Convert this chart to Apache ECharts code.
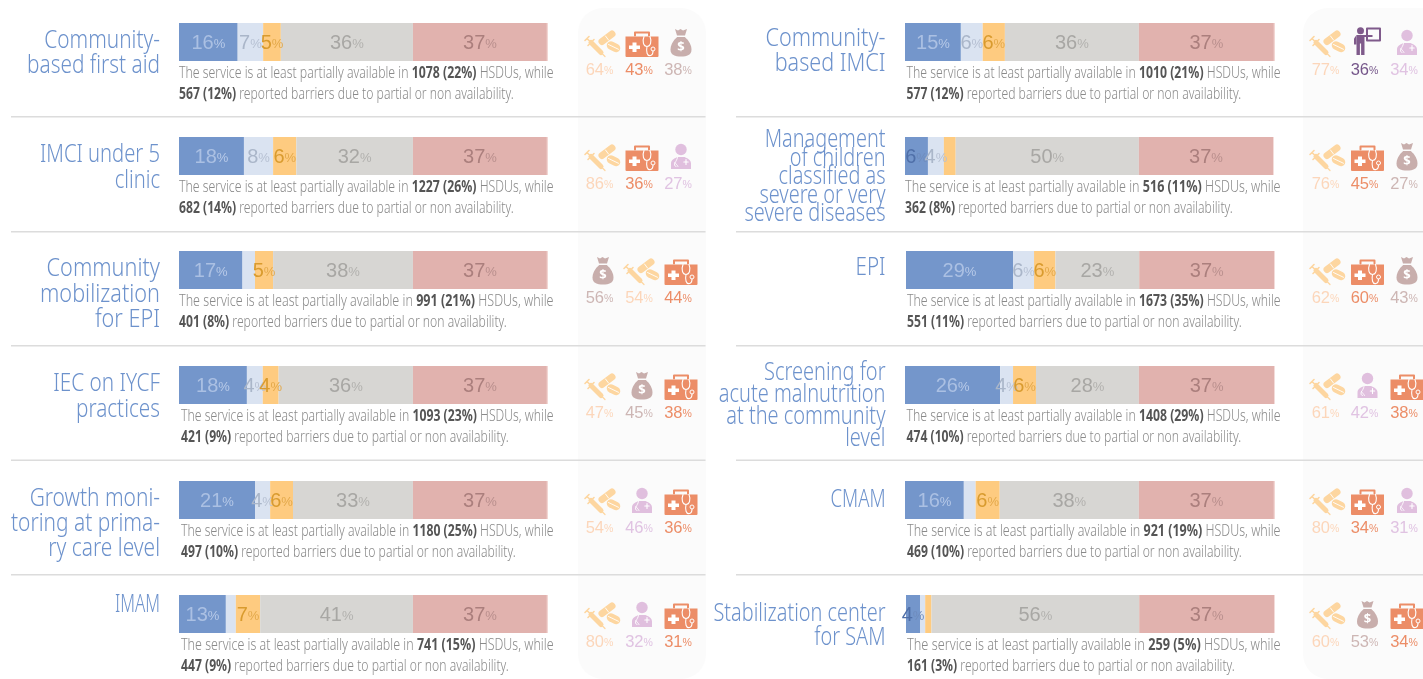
<!DOCTYPE html>
<html><head><meta charset="utf-8">
<style>html,body{margin:0;padding:0;background:#fff}#c{width:1423px;height:679px}</style>
<script src="https://cdn.jsdelivr.net/npm/echarts@6/dist/echarts.min.js"></script>
</head><body><div id="c"></div>
<script>
// ---------- data ----------
const serviceNames = [
 "Community-\nbased first aid","IMCI under 5\nclinic","Community\nmobilization\nfor EPI","IEC on IYCF\npractices","Growth moni-\ntoring at prima-\nry care level","IMAM",
 "Community-\nbased IMCI","Management\nof children\nclassified as\nsevere or very\nsevere diseases","EPI","Screening for\nacute malnutrition\nat the community\nlevel","CMAM","Stabilization center\nfor SAM"];
const barAvailable   = [15.9,17.6,17.2,18.4,20.6,12.7, 15.1,6.2,29.0,25.7,15.9,3.8];
const barPartial     = [6.9,7.9,3.4,4.3,4.1,2.7, 5.9,4.3,5.7,3.5,3.2,1.4];
const barBarrier     = [4.8,6.3,4.9,4.3,6.2,6.6, 6.0,3.2,5.8,6.2,6.5,1.7];
const barNotRelevant = [35.8,31.6,37.9,36.4,32.5,41.4, 36.2,49.5,22.7,27.8,37.6,56.3];
const barNoData      = [36.3,36.3,36.3,36.3,36.3,36.3, 36.5,36.3,36.6,36.6,36.5,36.6];
const barRemainder   = [0.3,0.3,0.3,0.3,0.3,0.3, 0.3,0.2,0.2,0.2,0.3,0.2];
const labelAvailable   = [16,18,17,18,21,13, 15,6,29,26,16,4];
const labelPartial     = [7,8,null,4,4,null, 6,4,6,4,null,null];
const labelBarrier     = [5,6,5,4,6,7, 6,null,6,6,6,null];
const labelNotRelevant = [36,32,38,36,33,41, 36,50,23,28,38,56];
const labelNoData      = [37,37,37,37,37,37, 37,37,37,37,37,37];
const availableCount = [1078,1227,991,1093,1180,741, 1010,516,1673,1408,921,259];
const availablePct   = [22,26,21,23,25,15, 21,11,35,29,19,5];
const barrierCount   = [567,682,401,421,497,447, 577,362,551,474,469,161];
const barrierPct     = [12,14,8,9,10,9, 12,8,11,10,10,3];
const iconKind1 = ["pills","pills","bag","pills","pills","pills", "pills","pills","pills","pills","pills","pills"];
const iconKind2 = ["kit","kit","pills","bag","doctor","doctor", "teacher","kit","kit","doctor","kit","bag"];
const iconKind3 = ["bag","doctor","kit","kit","kit","kit", "doctor","bag","bag","kit","doctor","kit"];
const iconPct1 = [64,86,56,47,54,80, 77,76,62,61,80,60];
const iconPct2 = [43,36,54,45,46,32, 36,45,60,42,34,53];
const iconPct3 = [38,27,44,38,36,31, 34,27,43,38,31,34];

// ---------- layout ----------
const rowTop = [23,137,251,366,481,595];
const barLeft = [179,179,179,179,179,179, 905,905,906,905,905,906];
const barW    = [369,369,369,369,369,369, 370,370,369,370,370,369];
const textLeft = [179,179,179,181,181,181, 906.5,905,907,906.5,907,907];
const titleFirstY = [41,155,269,384,499,605, 39,140,268,373,500,614];
const titleLH     = [25,26,25.5,26,25,25, 25,18.5,25,22,25,24];
const titleWidest = [133,120,120,106.7,149,45, 120,141,30,166.7,55,172];
const sepY = [117,232,346,460.5,575];
const iconX = [[603,642,681],[1328,1367.5,1407]];
const valX  = [[599.5,639,678],[1325.5,1364.5,1404]];
const BAR_H = 38;
const SANS = "'Noto Sans'";

const kinds = {
 pills:{c:'#fdd6a0',t:'#fcd6ba'},
 kit:{c:'#ec8d67',t:'#ec8d67'},
 bag:{c:'#c8aeac',t:'#cdb6b4'},
 doctor:{c:'#e0bfde',t:'#e0c3e2'},
 teacher:{c:'#7f5a8b',t:'#75568a'}
};

let pathCount=0; const pathTypes={};
function pathType(d){
 if(!pathTypes[d]){const n='iconPath'+(pathCount++);echarts.graphic.registerShape(n,echarts.graphic.extendPath(d,{}));pathTypes[d]=n;}
 return pathTypes[d];
}
function P(d,c){return {type:pathType(d),silent:true,style:{fill:c,stroke:null}};}
function S(d,c,w){return {type:pathType(d),silent:true,style:{fill:null,stroke:c,lineWidth:w,lineCap:'round',lineJoin:'round'}};}
function iconShapes(kind){
 const c=kinds[kind].c;
 if(kind==='kit') return [
  S('M-7 -9 L-7 -12 L7 -12 L7 -9',c,2),
  P('M-16.5 -8 L16.5 -8 L16.5 11.5 Q16.5 12.5 15.5 12.5 L-15.5 12.5 Q-16.5 12.5 -16.5 11.5 Z',c),
  P('M-9.5 -2 L-5.5 -2 L-5.5 1 L-2 1 L-2 4.5 L-5.5 4.5 L-5.5 7.5 L-9.5 7.5 L-9.5 4.5 L-13 4.5 L-13 1 L-9.5 1 Z','#fff'),
  S('M2 -8 C0 -3 1.5 2 5 2 C8.5 2 10 -3 8 -8 M5 2 C4 7 5 12 8.5 11 C11 10.5 11 8 11 6.5',"#fff",1.1),
  {type:'circle',silent:true,shape:{cx:11,cy:4.5,r:2},style:{fill:null,stroke:'#fff',lineWidth:1}}
 ];
 if(kind==='bag') return [
  P('M-6 -14 L-3 -12.5 L-0.5 -14 L2 -12.5 L6 -14 L4 -7.5 L-4 -7.5 Z',c),
  P('M-3.8 -6 C-8 -2.5 -10.5 2.5 -10.5 6.5 C-10.5 12 -6 13.5 0 13.5 C6 13.5 10.5 12 10.5 6.5 C10.5 2.5 8 -2.5 3.8 -6 Z',c),
  {type:'text',silent:true,x:0,y:4,style:{text:'$',fill:'#fff',font:"bold 13px 'Noto Sans'",align:'center',verticalAlign:'middle'}}
 ];
 if(kind==='pills') return [
  S('M-12 -2 L-2 8',c,5),
  S('M-15 1 L-9 -5 M-12 -2 L-16 -6 M-18 -4 L-14 -8',c,1.6),
  S('M-2 8 L2 12',c,1.2),
  S('M-1 -3 L9 -10.5',c,7),
  S('M8 1 L13 3.5',c,8.5),
  S('M2.5 -8.5 L5.5 -4.5',"#fff",0.9),
  S('M5.5 0 L15.5 4.8',"#fff",0.9)
 ];
 if(kind==='doctor') return [
  {type:'circle',silent:true,shape:{cx:0,cy:-7,r:5.7},style:{fill:c}},
  P('M-10 12.5 L-10 7 C-10 3 -6 1.5 -3.5 0.5 L3.5 0.5 C6 1.5 10 3 10 7 L10 12.5 Z',c),
  S('M-3.5 1 C-4 3 -5 5 -6 6 C-7 8 -6.5 10 -5 10 M-6 6 C-5 8 -3.5 8.5 -3 10',"#fff",0.9),
  S('M5 3 L5 8 M2.8 5.5 L7.2 5.5',"#fff",1.1)
 ];
 return [ // teacher
  {type:'circle',silent:true,shape:{cx:-7,cy:-10.7,r:3.5},style:{fill:c}},
  P('M-11 -6.5 L-3 -6.5 L5 -6.5 L5 -4.5 L-3 -4.5 L-3 13.5 L-6.4 13.5 L-6.4 2 L-7.6 2 L-7.6 13.5 L-11 13.5 Z',c),
  P('M-11 -6.5 L-13.5 -3 L-13.5 3 L-11 3 Z',c),
  S('M-0.5 -13 L12.5 -13 L12.5 -1 L-0.5 -1 Z M-0.5 -13 L-0.5 -7',c,2)
 ];
}
const iconCY={pills:44.5,kit:44.5,bag:43,doctor:42.5,teacher:41.5};

// ---------- measuring ----------
const mctx=document.createElement('canvas').getContext('2d');
function mw(t,font){mctx.font=font;return mctx.measureText(t).width;}
const bodyFont="300 16px "+SANS, boldFont="700 16px "+SANS, titleFont="300 26px "+SANS;

// ---------- build ----------
const grid=[],xAxis=[],yAxis=[],series=[];
const segs=[
 {d:barAvailable,l:labelAvailable,c:'#7496cb',n:'#abc0e3',p:'#b8cae8'},
 {d:barPartial,l:labelPartial,c:'#dae3f1',n:'#aab6c9',p:'#b7c1d3'},
 {d:barBarrier,l:labelBarrier,c:'#fecb80',n:'#d99b2e',p:'#e3a94a'},
 {d:barNotRelevant,l:labelNotRelevant,c:'#d7d6d3',n:'#a8a7a4',p:'#b2b1ae'},
 {d:barNoData,l:labelNoData,c:'#e1b2ae',n:'#ab7f7d',p:'#b98f8d'},
 {d:barRemainder,l:null,c:'#f2d6d3'}
];
const graphics=[];
graphics.push({type:'rect',silent:true,shape:{x:578,y:8,width:128,height:671,r:25},style:{fill:'#fbfbfb'}});
graphics.push({type:'rect',silent:true,shape:{x:1303,y:8,width:160,height:671,r:25},style:{fill:'#fbfbfb'}});
sepY.forEach(y=>{
 graphics.push({type:'rect',silent:true,shape:{x:11,y:y-1,width:694.5,height:1.6},style:{fill:'#dcdcdc'}});
 graphics.push({type:'rect',silent:true,shape:{x:736,y:y-1,width:687,height:1.6},style:{fill:'#dcdcdc'}});
});
serviceNames.forEach((name,i)=>{
 const side=i<6?0:1, row=i%6, top=rowTop[row];
 grid.push({left:barLeft[i],top:top,width:barW[i],height:BAR_H});
 xAxis.push({gridIndex:i,type:'value',min:0,max:100,show:false});
 yAxis.push({gridIndex:i,type:'category',data:[name.replace(/\n/g,' ')],show:false});
 segs.forEach((s,si)=>{
  const v=s.l?s.l[i]:null;
  const dark=si===0&&v<10;
  series.push({type:'bar',xAxisIndex:i,yAxisIndex:i,stack:'r'+i,barWidth:BAR_H,silent:true,
   data:[s.d[i]],itemStyle:{color:s.c},
   label:{show:v!=null,position:'inside',formatter:'{n|'+v+'}{p|%}',offset:[0,1],
    rich:{n:{fontFamily:'Liberation Sans',fontSize:20,color:dark?'#4f6fa8':s.n},
          p:{fontFamily:'Liberation Sans',fontSize:13,color:dark?'#6f8cbd':s.p,padding:[3,0,0,0]}}}});
 });
 // title
 const widest=Math.max.apply(null,name.split('\n').map(l=>mw(l,titleFont)));
 graphics.push({type:'text',silent:true,x:side?885.5:160,y:titleFirstY[i]-titleLH[i]/2,scaleX:titleWidest[i]/widest,
  style:{text:name,font:titleFont,fill:'#6d92cc',align:'right',verticalAlign:'top',lineHeight:titleLH[i]}});
 // description
 const a1='The service is at least partially available in ',b1=availableCount[i]+' ('+availablePct[i]+'%)',a2=' HSDUs, while';
 const b2=barrierCount[i]+' ('+barrierPct[i]+'%)',a3=' reported barriers due to partial or non availability.';
 const w=mw(a1,bodyFont)+mw(b1,boldFont)+mw(a2,bodyFont);
 const sc=((side?1280.5:553.5)-textLeft[i])/w;
 const sc2=277.5/mw(a3,bodyFont);
 const rich={r:{font:bodyFont,fill:'#8a8a8a'},b:{font:boldFont,fill:'#555555'}};
 graphics.push({type:'text',silent:true,x:textLeft[i],y:top+50.5,scaleX:sc,style:{text:'{r|'+a1+'}{b|'+b1+'}{r|'+a2+'}',rich,align:'left',verticalAlign:'middle'}});
 graphics.push({type:'text',silent:true,x:textLeft[i],y:top+71.5,scaleX:sc2,style:{text:'{b|'+b2+'}{r|'+a3+'}',rich,align:'left',verticalAlign:'middle'}});
 // icons and their values
 [[iconKind1,iconPct1],[iconKind2,iconPct2],[iconKind3,iconPct3]].forEach((pair,col)=>{
  const k=pair[0][i], val=pair[1][i], t=kinds[k].t;
  graphics.push({type:'group',silent:true,x:iconX[side][col],y:top+iconCY[k]-23,children:iconShapes(k)});
  graphics.push({type:'text',silent:true,x:valX[side][col],y:top+47,style:{text:'{n|'+val+'}{p|%}',align:'center',verticalAlign:'middle',
   rich:{n:{font:"16.5px 'Liberation Sans'",fill:t},p:{font:"10.5px 'Liberation Sans'",fill:t,padding:[3,0,0,0]}}}});
 });
});
const chart=echarts.init(document.getElementById('c'),null,{renderer:'canvas'});
chart.setOption({animation:false,backgroundColor:'#fff',tooltip:{show:false},grid,xAxis,yAxis,series,graphic:{elements:graphics}});
</script></body></html>
